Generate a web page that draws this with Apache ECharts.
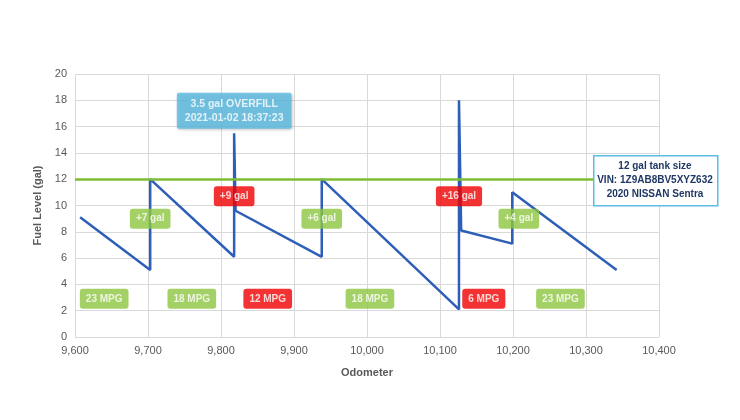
<!DOCTYPE html>
<html><head><meta charset="utf-8">
<script src="https://cdn.jsdelivr.net/npm/echarts@6/dist/echarts.min.js"></script>
<style>html,body{margin:0;padding:0;background:#fff}#c{width:740px;height:420px}</style>
</head><body><div id="c"></div>
<script>
// fuel level trace [odometer, gallons]
var fuelPoints = [[9607,9.1],[9703,5.1],[9703,12],[9818,6.1],[9818,15.5],[9820,9.6],[9938,6.1],[9938,12],[10126,2.1],[10126,18],[10129,8.1],[10199,7.1],[10199,11],[10342,5.1]];
var tankSize = 12;
var mpgLabels = [[9640,2.9,'23 MPG'],[9760,2.9,'18 MPG'],[9864,2.9,'12 MPG'],[10004,2.9,'18 MPG'],[10160,2.9,'6 MPG'],[10265,2.9,'23 MPG']];
var mpgBad = [false,false,true,false,true,false];
var fillLabels = [[9703,9,'+7 gal'],[9818,10.7,'+9 gal'],[9938,9,'+6 gal'],[10126,10.7,'+16 gal'],[10208,9,'+4 gal']];
var fillBad = [false,true,false,true,false];
var overfills = [[9818,17.2,'3.5 gal OVERFILL\n2021-01-02 18:37:23'],[10126,20.5,'6 gal OVERFILL\n16 gal > 12 gal TANK EXCEPTION\n2021-01-09 13:18:37']];
var xTicks = [9600,10400,100];
var yTicks = [0,20,2];

var GREEN = '#8cc63f', RED = '#f00000', BLUE = '#2e5fb8', CALLOUT = '#5bbde4';
function boxes(list, bad) {
  return list.map(function(d, i){
    return {value:[d[0],d[1]], label:{show:true, position:'inside', formatter:d[2], color:'#fff', fontWeight:'bold', fontSize:10,
      backgroundColor: bad[i] ? RED : GREEN, borderRadius:3, padding:[5,6]}};
  });
}
var chart = echarts.init(document.getElementById('c'));
chart.setOption({
  animation:false,
  textStyle:{fontFamily:'Arial, Liberation Sans, sans-serif'},
  grid:{left:75, right:81, top:74, bottom:83},
  xAxis:{type:'value', min:xTicks[0], max:xTicks[1], interval:xTicks[2], name:'Odometer', nameLocation:'middle', nameGap:30,
    nameTextStyle:{color:'#595959', fontWeight:'bold', fontSize:11},
    axisLine:{show:false}, axisTick:{show:false}, axisLabel:{color:'#595959', fontSize:11},
    splitLine:{show:true, lineStyle:{color:'#d9d9d9'}}},
  yAxis:{type:'value', min:yTicks[0], max:yTicks[1], interval:yTicks[2], name:'Fuel Level (gal)', nameLocation:'middle', nameGap:32,
    nameTextStyle:{color:'#595959', fontWeight:'bold', fontSize:11},
    axisLine:{show:false}, axisTick:{show:false}, axisLabel:{color:'#595959', fontSize:11},
    splitLine:{lineStyle:{color:'#d9d9d9'}}},
  series:[
    {type:'line', data:fuelPoints, showSymbol:false, lineStyle:{color:BLUE, width:2.5}, zlevel:0,
      markLine:{silent:true, symbol:'none', lineStyle:{color:'#7cbd35', width:2.5, type:'solid'}, label:{show:false},
        data:[{yAxis:tankSize}]}},
    {type:'scatter', symbolSize:0, data:boxes(mpgLabels, mpgBad), zlevel:1},
    {type:'scatter', symbolSize:0, data:boxes(fillLabels, fillBad), zlevel:1},
    {type:'scatter', symbolSize:0, zlevel:1, data:overfills.map(function(d){
      return {value:[d[0],d[1]], label:{show:true, position:'inside', formatter:d[2], color:'#fff', fontWeight:'bold', fontSize:10.5,
        lineHeight:14, align:'center', backgroundColor:CALLOUT, padding:[4,8], borderRadius:2,
        shadowColor:'rgba(0,0,0,0.3)', shadowBlur:3, shadowOffsetX:1, shadowOffsetY:1}};
    })}
  ],
  graphic:[{type:'rect', left:593, top:155, zlevel:1, shape:{width:124, height:50},
      style:{fill:'#fff', stroke:'#5bbde4', lineWidth:1.5}},
    {type:'text', x:655, y:159, zlevel:1, style:{
      text:'12 gal tank size\nVIN: 1Z9AB8BV5XYZ632\n2020 NISSAN Sentra', fill:'#1f3864', font:'bold 10px Arial', align:'center',
      lineHeight:14}}]
});
</script></body></html>
